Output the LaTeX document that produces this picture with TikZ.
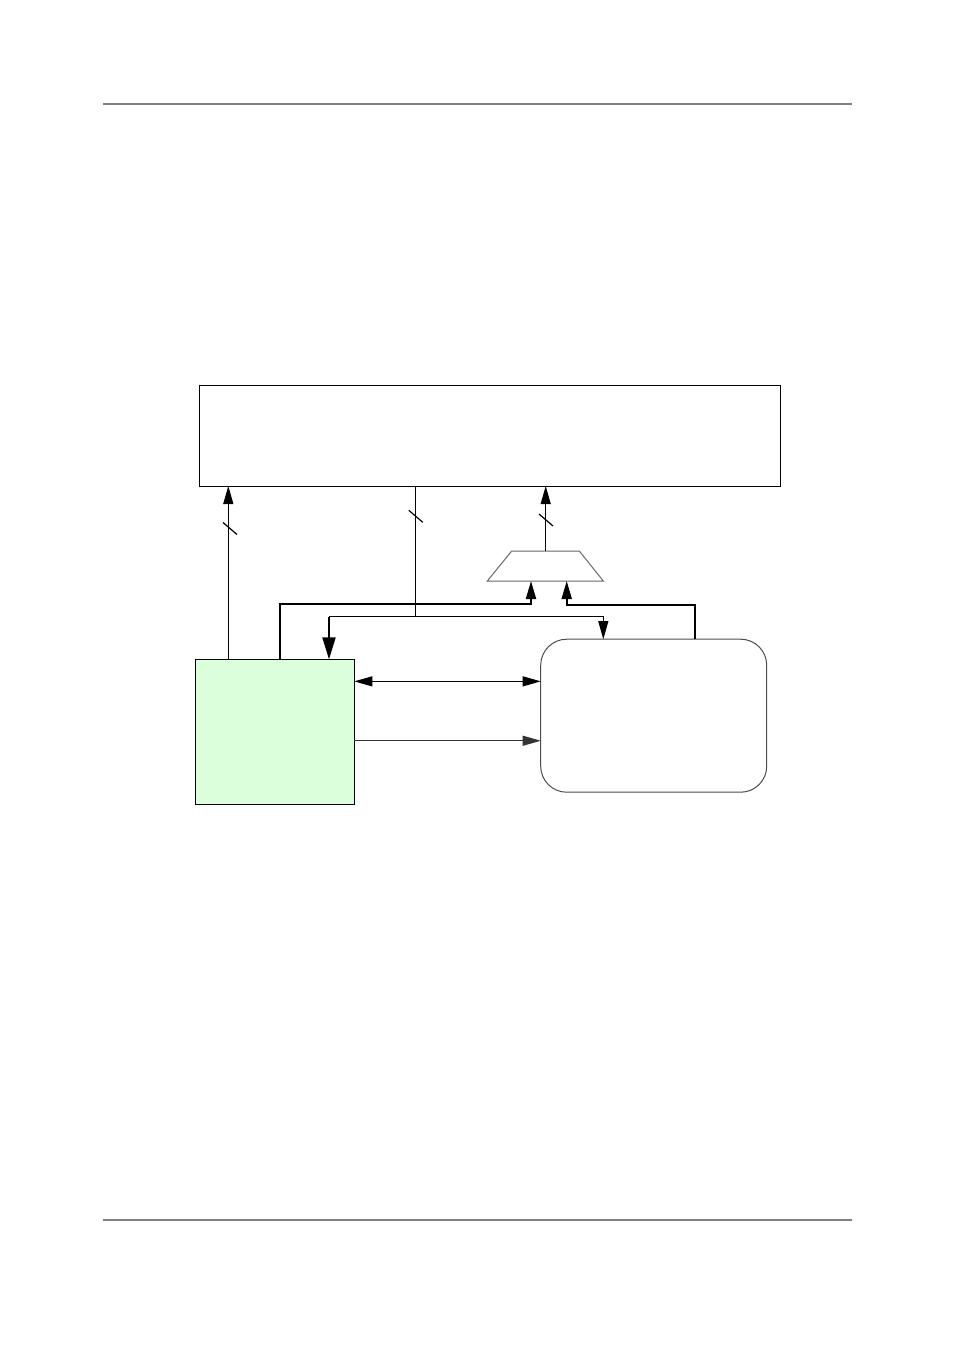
\documentclass[tikz,border=0pt]{standalone}
\usepackage{tikz}
\usetikzlibrary{calc,arrows.meta}
\definecolor{cpugreen}{RGB}{218,255,218}
\def\busmark(#1){\draw[line width=1.2pt] ($(#1)+(-7,-6)$) -- ($(#1)+(7,6)$);}

\begin{document}
\begin{tikzpicture}[x=1pt,y=-1pt,
		block/.style={draw=black, line width=1pt, inner sep=0pt, outer sep=0pt},
		sig/.style={line width=1pt, -{Triangle[length=18pt,width=10pt]}},
		bus/.style={line width=2pt, -{Triangle[length=18pt,width=10pt]}}]
			%%%%% START %%%%%
			\useasboundingbox (0,0) rectangle (954,1351);
			
			\draw[line width=1.5pt, color=black!50] (103,104) -- (852,104);
			\draw[line width=1.5pt, color=black!50] (103,1220) -- (852,1220);
			
			\node[block, minimum width=580.5, minimum height=100.5] (mem) at (489.75,435.75) {};
			\node[block, fill=cpugreen, minimum width=159, minimum height=144.7] (cpu) at (274.8,731.7) {};
			\node[block, draw=black!70, rounded corners=26, minimum width=226, minimum height=153] (dev) at (653.7,715.7) {};
			
			\draw[line width=1pt, color=black!60] (511.7,551) -- (579.3,551) -- (603.3,581) -- (487.3,581) -- cycle;
			\coordinate (muxout) at (545.7,551);
			\coordinate (muxa) at (531,581);
			\coordinate (muxb) at (566.7,581);
			\coordinate (split) at (415.7,616.7);
			\coordinate (cpuin) at ($(cpu.north west)+(133.7,0)$);
			\coordinate (cpuout) at ($(cpu.north west)+(84.7,0)$);
			\coordinate (cpuup) at ($(cpu.north west)+(33,0)$);
			\coordinate (devin) at ($(dev.north west)+(62.6,0)$);
			\coordinate (devout) at ($(dev.north west)+(154.3,0)$);
			\coordinate (linka) at ($(cpu.north east)+(0,22)$);
			\coordinate (linkb) at ($(cpu.north east)+(0,81.4)$);
			
			\draw[sig] (cpuup) -- (cpuup |- mem.south);
			\busmark(230,528.5)
			
			\draw[sig] (muxout) -- (muxout |- mem.south);
			\busmark(546,520)
			
			\draw[line width=1pt] (mem.south -| split) -- (split);
			\busmark(415.8,516.3)
			\draw[line width=1pt] (split) -- (split -| cpuin);
			\draw[line width=2pt, -{Triangle[length=22pt,width=13pt]}] (split -| cpuin) -- (cpuin);
			\draw[sig] (split) -| (devin);
			
			\draw[bus] (cpuout) |- ($(muxa)+(0,23)$) -- (muxa);
			\draw[bus] (devout) |- ($(muxb)+(0,24)$) -- (muxb);
			
			\draw[sig, {Triangle[length=18pt,width=10pt]}-{Triangle[length=18pt,width=10pt]}] (linka) -- (linka -| dev.west);
			\draw[sig, color=black!80] (linkb) -- (linkb -| dev.west);
			
			%%%%% END %%%%%
		\end{tikzpicture}
\end{document}
